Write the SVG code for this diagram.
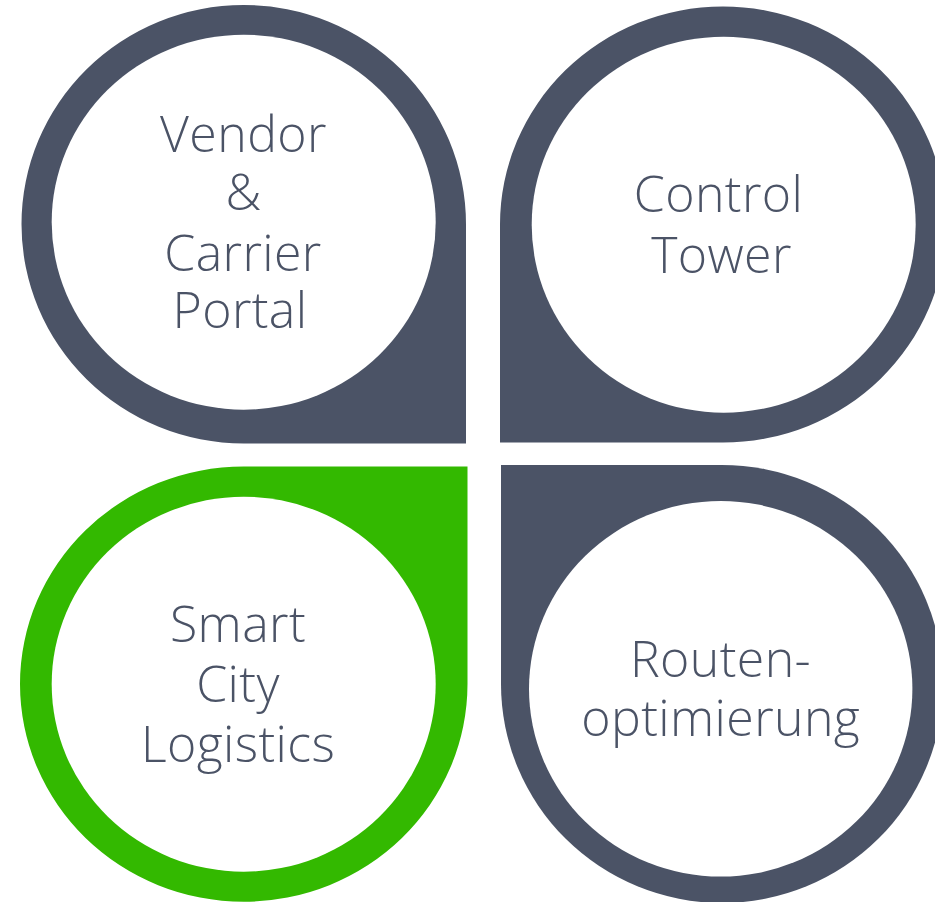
<svg xmlns="http://www.w3.org/2000/svg" width="935" height="902" viewBox="0 0 935 902">
<style>
.dark{fill:#4b5366}
.green{fill:#33b900}
.hole{fill:#ffffff}
.lbl{font-family:"Open Sans",Lato,"Liberation Sans",sans-serif;font-weight:300;font-size:50px;letter-spacing:0.4px;fill:#4b5366;text-anchor:middle}
</style>
<rect width="935" height="902" fill="#ffffff"/>
<g id="node-vendor">
<path class="dark" d="M466,443.5 L466,224.25 A222.25,219.25 0 0 0 243.75,5 A222.25,219.25 0 0 0 21.5,224.25 A222.25,219.25 0 0 0 243.75,443.5 Z"/>
<ellipse class="hole" cx="243.7" cy="222.2" rx="192" ry="187.5"/>
<text class="lbl"><tspan x="243.5" y="151.5">Vendor</tspan><tspan x="243.5" y="210">&amp;</tspan><tspan x="243" y="270.5">Carrier</tspan><tspan x="240" y="328">Portal</tspan></text>
</g>
<g id="node-control">
<path class="dark" d="M500,442.5 L500,224.5 A223,218 0 0 1 723,6.5 A223,218 0 0 1 946,224.5 A223,218 0 0 1 723,442.5 Z"/>
<ellipse class="hole" cx="723.7" cy="224.7" rx="192" ry="188"/>
<text class="lbl"><tspan x="718.5" y="212.3">Control</tspan><tspan x="721.5" y="272.7">Tower</tspan></text>
</g>
<g id="node-smartcity">
<path class="green" d="M467.5,466.5 L243.75,466.5 A223.75,217.6 0 0 0 20,684.1 A223.75,217.6 0 0 0 243.75,901.7 A223.75,217.6 0 0 0 467.5,684.1 Z"/>
<ellipse class="hole" cx="243.7" cy="684.2" rx="192" ry="187.5"/>
<text class="lbl"><tspan x="238" y="642.3">Smart</tspan><tspan x="238" y="701.5">City</tspan><tspan x="238" y="761.7">Logistics</tspan></text>
</g>
<g id="node-routen">
<path class="dark" d="M501,465 L722,465 A221,219 0 0 1 943,684 A221,219 0 0 1 722,903 A221,219 0 0 1 501,684 Z"/>
<ellipse class="hole" cx="720.7" cy="688.8" rx="191.7" ry="187.8"/>
<text class="lbl"><tspan x="720.5" y="677.3">Routen-</tspan><tspan x="720.8" y="736">optimierung</tspan></text>
</g>
<g id="connectors"/>
</svg>
